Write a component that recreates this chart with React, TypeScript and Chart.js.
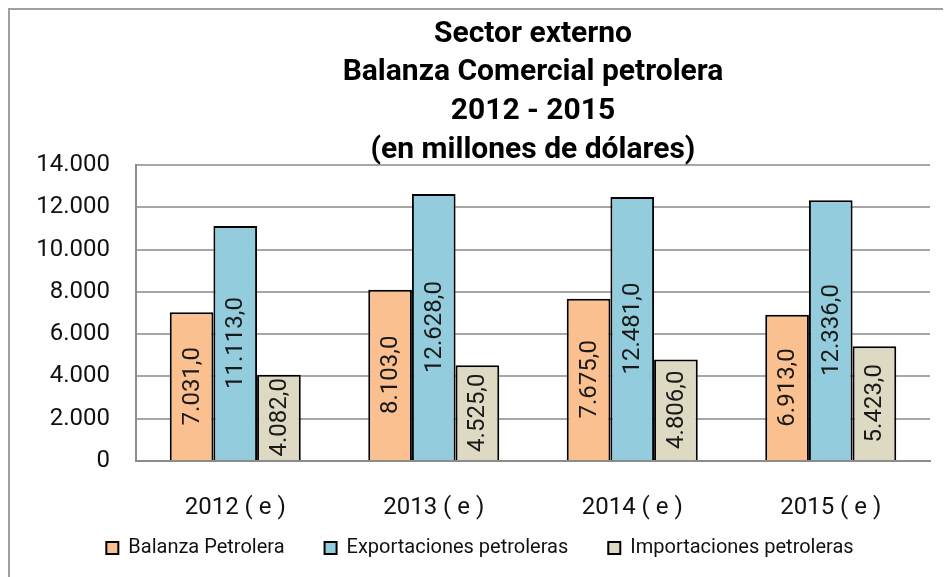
import { useEffect, useRef } from "react";
import { Chart, registerables } from "chart.js";

Chart.register(...registerables);

const categories = ["2012 ( e )", "2013 ( e )", "2014 ( e )", "2015 ( e )"];
const seriesNames = ["Balanza Petrolera", "Exportaciones petroleras", "Importaciones petroleras"];
const balanzaPetrolera = [7031, 8103, 7675, 6913];
const exportacionesPetroleras = [11113, 12628, 12481, 12336];
const importacionesPetroleras = [4082, 4525, 4806, 5423];
const titleLines = ["Sector externo", "Balanza Comercial petrolera", "2012 - 2015", "(en millones de dólares)"];
const yMin = 0;
const yMax = 14000;
const yStep = 2000;

const colors = ["#FAC090", "#93CDDD", "#DDD9C3"];

function fmt(v: number, dec: number): string {
  const fixed = v.toFixed(dec);
  const [int, frac] = fixed.split(".");
  const grouped = int.replace(/\B(?=(\d{3})+(?!\d))/g, ".");
  return frac ? grouped + "," + frac : grouped;
}

const titlePlugin = {
  id: "multiTitle",
  afterDraw(chart: any) {
    const { ctx, chartArea } = chart;
    ctx.save();
    ctx.font = 'bold 30px Roboto, sans-serif';
    ctx.fillStyle = "#000";
    ctx.textAlign = "center";
    ctx.textBaseline = "middle";
    const cx = (chartArea.left + chartArea.right) / 2;
    titleLines.forEach((t, i) => {
      ctx.fillText(t, cx, 24 + i * 38.7);
    });
    ctx.restore();
  },
};

const legendShiftPlugin = {
  id: "legendShift",
  afterLayout(chart: any) {
    const lg = chart.legend;
    if (!lg) return;
    lg.top = 488;
    lg.bottom = chart.height;
    lg.left += 10;
    lg.right += 10;
  },
};

const barLabelPlugin = {
  id: "barLabels",
  afterDatasetsDraw(chart: any) {
    const { ctx } = chart;
    ctx.save();
    ctx.font = '24px Roboto, sans-serif';
    ctx.fillStyle = "#1a1a1a";
    ctx.textAlign = "center";
    ctx.textBaseline = "middle";
    chart.data.datasets.forEach((ds: any, di: number) => {
      const meta = chart.getDatasetMeta(di);
      meta.data.forEach((el: any, i: number) => {
        const cy = (el.y + el.base) / 2;
        ctx.save();
        ctx.translate(el.x, cy);
        ctx.rotate(-Math.PI / 2);
        ctx.fillText(fmt(ds.data[i], 1), 0, 1);
        ctx.restore();
      });
    });
    ctx.restore();
  },
};

export default function App() {
  const ref = useRef<HTMLCanvasElement>(null);
  useEffect(() => {
    if (!ref.current) return;
    const data = [balanzaPetrolera, exportacionesPetroleras, importacionesPetroleras];
    const chart = new Chart(ref.current, {
      type: "bar",
      data: {
        labels: categories,
        datasets: seriesNames.map((name, i) => ({
          label: name,
          data: data[i],
          backgroundColor: colors[i],
          borderColor: "#000",
          borderWidth: 2,
          barPercentage: 1,
          categoryPercentage: 0.66,
        })),
      },
      options: {
        animation: false,
        responsive: false,
        maintainAspectRatio: false,
        layout: { padding: { top: 155, right: 21, bottom: 8, left: 0 } },
        plugins: {
          title: { display: false },
          tooltip: { enabled: false },
          legend: {
            display: true,
            position: "bottom",
            maxHeight: 46,
            labels: {
              boxWidth: 12,
              boxHeight: 12,
              padding: 40,
              color: "#111",
              font: { family: "Roboto, sans-serif", size: 20 },
            },
          },
        },
        scales: {
          x: {
            grid: { display: false, drawTicks: false },
            border: { display: true, color: "#8C8C8C", width: 2 },
            ticks: {
              color: "#111",
              padding: 33,
              font: { family: "Roboto, sans-serif", size: 24 },
            },
            afterFit(scale: any) {
              scale.height = 62;
            },
          },
          y: {
            min: yMin,
            max: yMax,
            grid: { color: "#A6A6A6", lineWidth: 2, drawTicks: false },
            border: { display: true, color: "#8C8C8C", width: 2 },
            ticks: {
              stepSize: yStep,
              color: "#111",
              padding: 26,
              font: { family: "Roboto, sans-serif", size: 24 },
              callback: (v: any) => fmt(Number(v), 0),
            },
            afterFit(scale: any) {
              scale.width = 126;
            },
          },
        },
      },
      plugins: [titlePlugin, barLabelPlugin, legendShiftPlugin],
    });
    return () => chart.destroy();
  }, []);

  return (
    <>
      <style>{`html,body{overflow:hidden;background:#fff}`}</style>
      <div
        style={{
          borderLeft: "2px solid #A0A0A0",
          borderTop: "2px solid #A0A0A0",
          width: 941,
          height: 567,
        }}
      >
        <canvas ref={ref} width={941} height={567} style={{ display: "block", width: 941, height: 567 }} />
      </div>
    </>
  );
}
